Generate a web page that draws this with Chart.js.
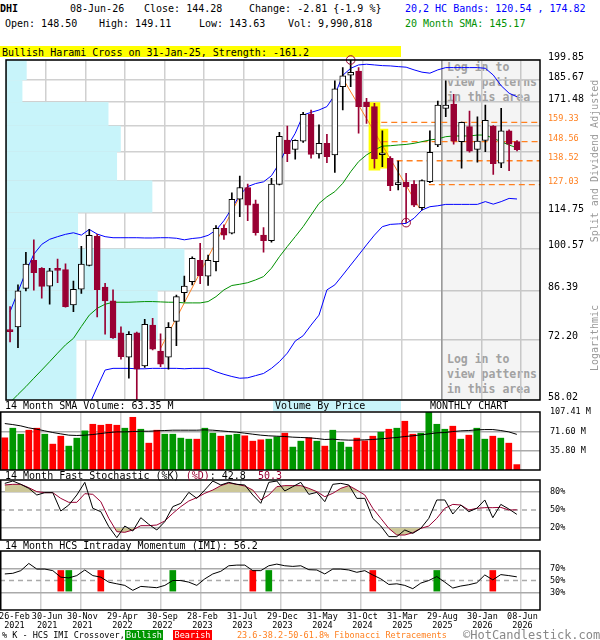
<!DOCTYPE html>
<html>
<head>
<meta charset="utf-8">
<title>DHI monthly chart</title>
<script src="https://cdn.jsdelivr.net/npm/chart.js@4.4.1/dist/chart.umd.min.js"></script>
<style>
  body { margin: 0; width: 600px; height: 640px; position: relative; overflow: hidden; background: #fff;
         font-family: "DejaVu Sans Mono", monospace; font-size: 10px; color: #000; }
  .t { position: absolute; white-space: pre; line-height: 10px; z-index: 2; }
  .small { font-size: 8.5px; line-height: 9px; }
  canvas { position: absolute; left: 0; z-index: 1; }
  .login { position: absolute; left: 447px; z-index: 0; color: #aaa; font-weight: bold;
           font-size: 11.5px; line-height: 15px; white-space: pre; }
  .rot { position: absolute; z-index: 2; color: #999; white-space: pre; line-height: 10px;
         transform: translate(-50%, -50%) rotate(-90deg); }
  .box { position: absolute; z-index: 2; color: #fff; text-align: center; font-size: 8.5px; line-height: 10px; height: 10px; }
</style>
</head>
<body>
<!-- header -->
<div class="t" style="left:0px;top:4px;font-weight:bold">DHI</div>
<div class="t" style="left:70px;top:4px">08-Jun-26</div>
<div class="t" style="left:144px;top:4px">Close: 144.28</div>
<div class="t" style="left:249px;top:4px">Change: -2.81 {-1.9 %}</div>
<div class="t" style="left:405px;top:4px;color:#0000ff">20,2 HC Bands: 120.54 , 174.82</div>
<div class="t" style="left:5px;top:19px">Open: 148.50</div>
<div class="t" style="left:99px;top:19px">High: 149.11</div>
<div class="t" style="left:199px;top:19px">Low: 143.63</div>
<div class="t" style="left:288px;top:19px">Vol: 9,990,818</div>
<div class="t" style="left:405px;top:19px;color:#009000">20 Month SMA: 145.17</div>
<div style="position:absolute;left:0;top:46px;width:401px;height:11px;background:#ffff00;z-index:0"></div>
<div class="t" style="left:2px;top:46.5px;line-height:11px;z-index:0">Bullish Harami Cross on 31-Jan-25, Strength: -161.2</div>

<div class="login" style="top:60px">Log in to
view patterns
in this area</div>
<div class="login" style="top:352px">Log in to
view patterns
in this area</div>

<div class="rot" style="left:595px;top:161px">Split and Dividend Adjusted</div>
<div class="rot" style="left:595px;top:338px">Logarithmic</div>

<!-- panel titles -->
<div class="t" style="left:5px;top:401px">14 Month SMA Volume: 63.35 M</div>
<div style="position:absolute;left:273px;top:400px;width:128px;height:11px;background:#c8f4fa;z-index:0"></div>
<div class="t" style="left:275px;top:401px">Volume By Price</div>
<div class="t" style="left:430px;top:401px">MONTHLY CHART</div>
<div class="t" style="left:5px;top:471px">14 Month Fast Stochastic (%K) <span style="color:#990033">(%D)</span>: 42.8  <span style="color:#990033">50.3</span></div>
<div class="t" style="left:5px;top:541px">14 Month HCS Intraday Momentum (IMI): 56.2</div>

<!-- footer -->
<div class="t small" style="left:2px;top:630.5px">% K - HCS IMI Crossover,</div>
<div class="box" style="left:125px;top:630px;width:38px;background:#009600">Bullish</div>
<div class="box" style="left:173px;top:630px;width:39px;background:#ff0000">Bearish</div>
<div class="t small" style="left:237px;top:630.5px;color:#ff8020">23.6-38.2-50-61.8% Fibonacci Retracements</div>
<div class="t" style="left:463px;top:629px;font-size:12px;line-height:12px;color:#888">©HotCandlestick.com</div>

<canvas id="cMain" width="600" height="360" style="top:50px"></canvas>
<canvas id="cVol" width="600" height="78" style="top:402px"></canvas>
<canvas id="cSto" width="600" height="80" style="top:470px"></canvas>
<canvas id="cImi" width="600" height="99" style="top:541px"></canvas>

<script>
// monthly candles, Feb 2021 .. Jun 2026 (index 0..64)
const opens  = [74.9, 75.7, 87.1, 96.4, 93.7, 87.8, 93.7, 93.2, 82.0, 86.8,
                94.7, 105.3, 87.5, 83.2, 74.1, 67.8, 74.1, 65.7, 76.2, 69.3,
                67.8, 77.2, 85.7, 89.2, 96.4, 91.0, 96.0, 108.3, 106.4, 120.5,
                125.6, 118.4, 105.7, 103.6, 127.1, 149.4, 144.4, 148.8, 164.0, 142.0,
                147.6, 141.5, 181.4, 189.2, 192.0, 171.3, 168.7, 141.6, 139.8, 127.0,
                128.1, 127.1, 116.8, 128.4, 146.7, 167.6, 170.2, 148.5, 156.8, 144.4,
                149.2, 157.2, 137.3, 154.4, 148.50];
const highs  = [81.5, 88.2, 99.3, 103.9, 93.9, 93.7, 96.9, 95.2, 89.4, 101.5,
                107.9, 106.0, 88.7, 86.6, 75.7, 74.4, 74.3, 77.8, 78.1, 73.8,
                76.9, 85.0, 91.1, 97.7, 102.6, 98.3, 109.4, 109.7, 123.3, 131.0,
                127.3, 120.1, 108.6, 130.0, 153.6, 157.2, 149.5, 165.2, 166.6, 157.8,
                152.5, 185.2, 194.4, 199.85, 194.4, 173.8, 170.7, 154.4, 140.6, 138.4,
                132.3, 128.9, 129.2, 154.4, 172.1, 185.2, 176.4, 159.5, 166.0, 162.6,
                169.7, 157.5, 167.6, 155.0, 149.11];
const lows   = [71.7, 70.2, 86.3, 86.5, 84.0, 82.2, 88.9, 81.3, 80.0, 85.5,
                94.5, 78.5, 73.7, 72.6, 67.3, 62.8, 58.02, 65.3, 69.6, 65.5,
                64.9, 70.7, 83.0, 88.2, 88.6, 88.0, 92.8, 104.1, 106.2, 113.0,
                111.4, 105.7, 99.3, 103.0, 126.9, 138.1, 139.3, 148.1, 139.8, 139.8,
                137.6, 132.8, 166.6, 181.4, 153.1, 158.7, 134.8, 135.6, 124.2, 124.6,
                110.6, 117.2, 115.8, 127.9, 145.8, 162.6, 147.1, 134.8, 142.9, 137.8,
                143.2, 131.8, 135.1, 133.6, 143.63];
const closes = [74.4, 86.3, 95.1, 92.2, 87.7, 92.8, 93.0, 81.5, 86.8, 95.1,
                105.6, 86.7, 83.2, 72.8, 67.9, 73.7, 64.9, 76.4, 69.8, 66.1,
                75.6, 84.5, 87.8, 97.1, 91.2, 96.4, 108.3, 105.7, 120.4, 125.7,
                117.9, 106.6, 103.6, 127.3, 151.4, 142.2, 149.2, 164.0, 141.8, 147.6,
                140.6, 179.9, 188.7, 191.0, 168.7, 168.7, 139.5, 141.9, 126.5, 127.2,
                126.0, 117.9, 128.9, 142.9, 169.7, 169.7, 148.8, 159.3, 143.5, 148.8,
                160.4, 137.1, 154.4, 147.1, 144.28];

// 20,2 HC bands and 20 month SMA
const upperBand = [80.0, 86.0, 92.5, 98.6, 102.2, 104.1, 105.1, 106.0, 106.6, 105.7,
                   107.9, 106.1, 105.1, 104.7, 104.7, 104.7, 104.7, 104.6, 104.6, 104.7,
                   104.7, 104.5, 103.9, 104.4, 104.7, 105.6, 107.6, 111.4, 116.5, 122.3,
                   126.1, 127.5, 128.3, 131.2, 137.3, 145.8, 153.1, 163.6, 165.2, 166.6,
                   168.7, 176.0, 189.0, 193.9, 196.3, 196.8, 196.3, 195.8, 195.6, 195.1,
                   194.7, 192.8, 191.2, 190.5, 192.8, 194.4, 194.4, 194.4, 194.4, 194.4,
                   193.9, 189.2, 182.0, 177.1, 174.82];
const lowerBand = [null, null, null, null, null, null, null, null, null, null,
                   57.0, 60.8, 64.7, 65.1, 65.1, 65.1, 65.0, 65.0, 65.1, 65.1,
                   65.1, 65.1, 65.0, 65.1, 65.1, 65.1, 64.3, 63.7, 63.2, 62.8,
                   62.9, 63.4, 63.9, 65.1, 66.7, 68.8, 71.9, 73.3, 76.2, 79.0,
                   86.6, 88.2, 91.4, 94.8, 98.3, 102.0, 105.7, 109.0, 109.9, 110.1,
                   110.3, 112.4, 115.8, 117.2, 117.6, 118.2, 118.2, 118.2, 118.2, 118.2,
                   119.4, 118.3, 119.4, 120.8, 120.54];
const sma20 = [57.5, 59.2, 60.9, 62.8, 64.7, 66.7, 68.8, 70.9, 72.6, 75.8,
               79.0, 81.0, 82.2, 82.8, 82.8, 82.8, 82.9, 83.0, 83.0, 82.9,
               82.8, 82.8, 82.6, 82.6, 82.6, 83.0, 84.5, 86.6, 88.0, 88.4,
               88.9, 89.8, 90.9, 93.7, 97.7, 101.4, 105.1, 109.0, 113.7, 118.6,
               121.5, 123.8, 127.6, 133.1, 138.1, 141.5, 144.0, 146.1, 146.3, 146.7,
               147.0, 147.6, 148.5, 149.4, 150.0, 151.2, 151.6, 151.6, 151.6, 152.1,
               152.1, 150.3, 148.5, 146.7, 145.17];

// volume, millions
const volumes = [59.6, 77.4, 66.3, 73.7, 77.4, 66.3, 47.9, 62.6, 44.2, 59.0,
                 72.5, 84.7, 82.9, 84.7, 82.9, 77.4, 97.6, 75.5, 49.7, 73.7,
                 66.3, 66.3, 59.0, 57.1, 57.1, 77.4, 68.2, 62.6, 64.5, 66.3,
                 63.3, 53.4, 55.9, 57.1, 61.4, 68.2, 42.4, 53.4, 59.6, 53.4,
                 44.2, 73.7, 51.6, 42.4, 59.0, 54.0, 62.6, 70.0, 75.5, 77.4,
                 90.3, 66.3, 68.2, 107.41, 84.7, 75.5, 81.1, 57.1, 64.5, 77.4,
                 57.1, 62.6, 59.0, 49.7, 9.99];
const volSma = [86.0, 84.1, 81.7, 78.0, 75.5, 72.5, 69.4, 66.9, 64.5, 63.9,
                64.5, 65.7, 67.6, 69.4, 70.6, 70.6, 71.2, 71.8, 71.8, 72.5,
                73.1, 73.7, 73.7, 73.7, 73.7, 74.3, 73.7, 72.5, 71.2, 70.0,
                68.2, 66.3, 64.5, 63.3, 62.6, 62.0, 60.8, 60.2, 59.6, 58.3,
                56.5, 57.1, 55.9, 55.3, 55.3, 55.9, 56.5, 57.7, 59.0, 60.2,
                62.0, 63.3, 65.1, 66.9, 68.8, 69.4, 71.2, 72.5, 73.1, 74.3,
                74.9, 74.9, 73.1, 70.6, 66.0];

// stochastic and IMI, percent
const pctK = [94.4, 98.3, 92.8, 86.1, 75.0, 78.9, 78.9, 48.3, 58.3, 75.0,
              96.1, 52.8, 47.2, 22.2, 3.9, 23.3, 15.0, 37.2, 26.1, 16.7,
              30.6, 55.6, 61.1, 79.4, 69.4, 83.3, 98.3, 91.7, 96.1, 92.8,
              91.7, 75.0, 61.1, 96.1, 98.3, 81.7, 88.9, 96.1, 76.1, 79.4,
              63.9, 92.8, 94.4, 91.7, 69.4, 69.4, 36.1, 23.3, 5.6, 5.6,
              16.7, 11.1, 19.4, 36.1, 66.7, 66.7, 43.3, 58.3, 47.2, 52.8,
              66.7, 37.2, 59.4, 51.7, 42.8];
const pctD = [91.7, 92.8, 92.8, 87.2, 80.6, 78.9, 78.9, 69.4, 62.8, 62.8,
              77.2, 76.1, 63.9, 36.1, 13.9, 12.8, 16.7, 23.9, 23.9, 25.0,
              31.7, 44.4, 55.6, 65.0, 70.6, 77.8, 83.3, 90.6, 95.0, 92.8,
              90.0, 83.3, 66.7, 75.0, 88.9, 90.6, 90.6, 90.6, 86.1, 80.6,
              72.2, 77.8, 86.1, 90.6, 83.3, 75.0, 52.8, 36.1, 19.4, 8.3,
              8.3, 12.2, 19.4, 23.3, 36.1, 52.8, 59.4, 58.3, 50.0, 52.8,
              53.9, 53.9, 54.4, 50.0, 50.3];
const imi = [61.1, 62.2, 66.7, 78.9, 69.4, 69.4, 66.7, 55.6, 54.4, 58.3,
             67.8, 58.3, 55.6, 47.2, 44.4, 41.7, 33.3, 40.0, 38.9, 37.8,
             41.7, 50.0, 50.0, 47.2, 41.7, 52.8, 61.1, 65.6, 75.0, 76.1,
             76.1, 66.7, 66.7, 75.0, 77.8, 75.0, 73.9, 75.0, 68.3, 67.8,
             61.1, 69.4, 69.4, 67.8, 63.9, 66.7, 59.4, 52.8, 43.3, 44.4,
             41.7, 36.1, 45.6, 50.0, 56.7, 47.2, 37.2, 40.6, 42.8, 46.1,
             59.4, 51.1, 60.0, 58.3, 56.2];
const imiBull = [8, 21, 33, 54];
const imiBear = [7, 12, 31, 46, 61];
const markerRange = [32, 67];

// price axis: grid levels, fib levels, volume by price per grid band (percent of width)
const priceGrid = [58.02, 72.20, 86.39, 100.57, 114.75, 128.93, 143.11, 157.30, 171.48, 185.67, 199.85];
const priceUnlabeled = [128.93, 143.11, 157.30];
const fibLevels = [127.03, 138.52, 148.56, 159.33];
const fibStart  = [51.6, 48.8, 46.9, 45.6];
const vbpVolume = [13.3, 28.5, 33.5, 13.6, 27.5, 20.9, 21.6, 19.3, 3.2, 4.0];

// pattern marks
const trendLines = [[{x: 19, y: 70.0}, {x: 29.1, y: 122.3}], [{x: 41.8, y: 188.8}, {x: 51.7, y: 116.5}]];
const swingPoints = [{x: 43, y: 199.85}, {x: 50, y: 110.6}];
const haramiBoxes = [{x: 46, y: [133.9, 171.1], w: 11}, {x: 47.2, y: [134.8, 155.5], w: 8}];
const SHADE_FROM = 54.5;

const volTicks = [35.8, 71.6, 107.41];
const stoTicks = [20, 50, 80];
const imiTicks = [30, 50, 70];
// month-end grid lines and where their date labels sit
const xGridPos  = [4.5, 9.5, 14.5, 19.5, 24.5, 29.5, 34.5, 39.5, 44.5, 49.5, 54.5, 59.5, 64.5];
const xLabelPos = [1.2, 5.3, 9.7, 14.7, 19.7, 24.7, 29.7, 34.7, 39.7, 44.7, 49.7, 54.7, 59.7, 64.7];
const xTickLabels = ['26-Feb 2021', '30-Jun 2021', '30-Nov 2021', '29-Apr 2022', '30-Sep 2022',
                     '28-Feb 2023', '31-Jul 2023', '29-Dec 2023', '31-May 2024', '31-Oct 2024',
                     '31-Mar 2025', '29-Aug 2025', '30-Jan 2026', '08-Jun 2026'];
const X_MIN = -0.6, X_MAX = 66.9;

const MAROON = '#990033', ORANGE = '#ff8020', GREEN = '#009600', RED = '#ff0000';
const KHAKI = 'rgb(204,199,152)', NONE = 'rgba(0,0,0,0)', GRID = '#d0d0d0', LEVEL = '#aaaaaa';

Chart.defaults.font.family = '"DejaVu Sans Mono", monospace';
Chart.defaults.color = '#000';

const isUp = closes.map((c, i) => c >= opens[i]);
const pts = arr => arr.map((v, i) => ({x: i, y: v}));

const framePlugin = {
  id: 'frame',
  afterDraw(chart) {
    const {ctx, chartArea: a} = chart;
    ctx.save();
    ctx.strokeStyle = '#000';
    ctx.lineWidth = 1.5;
    ctx.strokeRect(a.left + 0.75, a.top, a.right - a.left - 0.75, a.bottom - a.top);
    ctx.restore();
  }
};

// volume by price: one cyan band per price grid interval
const vbpPlugin = {
  id: 'vbp',
  beforeDatasetsDraw(chart) {
    const {ctx, chartArea: a, scales: {y, xv}} = chart;
    ctx.save();
    ctx.fillStyle = '#c8f4fa';
    vbpVolume.forEach((v, k) => {
      const top = y.getPixelForValue(priceGrid[k + 1]);
      const bot = y.getPixelForValue(priceGrid[k]);
      ctx.fillRect(a.left, top, xv.getPixelForValue(v) - a.left, bot - top);
    });
    ctx.restore();
  }
};

function xScale(showLabels) {
  const all = showLabels ? xGridPos.concat(xLabelPos) : xGridPos;
  return {
    type: 'linear', min: X_MIN, max: X_MAX, offset: false,
    afterBuildTicks: ax => { ax.ticks = all.slice().sort((a, b) => a - b).map(v => ({value: v})); },
    afterFit: ax => {
      ax.paddingLeft = 0; ax.paddingRight = 0;
      ax.height = showLabels ? 30 : 0;
    },
    grid: {color: c => xGridPos.includes(c.tick.value) ? GRID : NONE,
           lineWidth: 1.5, drawTicks: false, offset: false},
    border: {display: false},
    ticks: showLabels
      ? {autoSkip: false, maxRotation: 0, padding: 3, font: {size: 8.5, lineHeight: 1.0},
         callback: v => {
           const k = xLabelPos.indexOf(v);
           return k < 0 ? '' : xTickLabels[k].split(' ');
         }}
      : {display: false}
  };
}

function levelAxis(ticks, max, fmt, dashed) {
  return {
    position: 'right', min: 0, max: max,
    afterFit: ax => { ax.width = 60; ax.paddingTop = 0; ax.paddingBottom = 0; },
    afterBuildTicks: ax => { ax.ticks = ticks.map(v => ({value: v})); },
    grid: {drawTicks: false, lineWidth: 1.5,
           color: c => (c.tick.value === dashed || c.tick.value === max) ? NONE : LEVEL},
    border: {display: false},
    ticks: {autoSkip: false, padding: 10, font: {size: 8.5}, callback: fmt}
  };
}

function hline(v) {
  return {type: 'line', data: [{x: X_MIN, y: v}, {x: X_MAX, y: v}], borderColor: LEVEL,
          borderWidth: 1.5, borderDash: [5, 4], pointRadius: 0, order: 9};
}

function line(data, color, order) {
  return {type: 'line', data: data, borderColor: color, borderWidth: 1, pointRadius: 0,
          tension: 0, fill: false, order: order};
}

const baseOptions = (padTop, padBottom) => ({
  responsive: false, animation: false, events: [], devicePixelRatio: 1,
  layout: {padding: {top: padTop, bottom: padBottom, left: 0, right: 0}},
  plugins: {legend: {display: false}, tooltip: {enabled: false}}
});

// ---- price panel ----
const mainDatasets = [
  {type: 'line', data: [{x: SHADE_FROM, y: 199.85}, {x: X_MAX, y: 199.85}], fill: 'start',
   backgroundColor: 'rgba(0,0,0,0.045)', borderWidth: 0, pointRadius: 0, order: 10},
  {type: 'line', data: [{x: SHADE_FROM, y: 58.02}, {x: SHADE_FROM, y: 199.85}],
   borderColor: '#999', borderWidth: 1.5, pointRadius: 0, order: 9},
  ...haramiBoxes.map(b => ({type: 'bar', data: [{x: b.x, y: b.y}], backgroundColor: '#ffff00',
   barThickness: b.w, grouped: false, order: 8})),
  line(pts(upperBand), '#0000ff', 5),
  line(pts(lowerBand), '#0000ff', 5),
  line(pts(sma20), '#009000', 5),
  ...trendLines.map(t => line(t, ORANGE, 5)),
  ...fibLevels.map((lv, k) => ({type: 'line', data: [{x: fibStart[k], y: lv}, {x: X_MAX, y: lv}],
   borderColor: ORANGE, borderWidth: 1.3, borderDash: [6, 4], pointRadius: 0, order: 5})),
  {type: 'bar', data: lows.map((l, i) => ({x: i, y: [l, highs[i]]})),
   backgroundColor: isUp.map(u => u ? '#000' : MAROON), barThickness: 1, grouped: false, order: 2},
  {type: 'bar', data: opens.map((o, i) => ({x: i, y: [Math.min(o, closes[i]), Math.max(o, closes[i])]})),
   backgroundColor: isUp.map(u => u ? '#fff' : MAROON), borderColor: isUp.map(u => u ? '#000' : MAROON),
   borderWidth: 1, borderSkipped: false, barThickness: 6, minBarLength: 2, grouped: false, order: 1},
  {type: 'line', data: swingPoints, showLine: false, pointRadius: 4.3, pointBorderColor: MAROON,
   pointBackgroundColor: NONE, pointBorderWidth: 1, clip: false, order: 0}
];

const isFib = v => fibLevels.includes(v);
new Chart(document.getElementById('cMain'), {
  type: 'line',
  data: {datasets: mainDatasets},
  options: Object.assign(baseOptions(10, 10), {
    scales: {
      x: xScale(false),
      xv: {type: 'linear', display: false, min: 0, max: 100},
      y: {
        type: 'logarithmic', position: 'right', min: 58.02, max: 199.85,
        afterFit: ax => { ax.width = 60; ax.paddingTop = 0; ax.paddingBottom = 0; },
        afterBuildTicks: ax => {
          ax.ticks = priceGrid.concat(fibLevels).sort((a, b) => a - b).map(v => ({value: v}));
        },
        grid: {drawTicks: false, lineWidth: 1.5, color: c => isFib(c.tick.value) ? NONE : GRID},
        border: {display: false},
        ticks: {
          autoSkip: false, padding: 8, labelOffset: -3,
          color: c => isFib(c.tick.value) ? ORANGE : '#000',
          font: c => isFib(c.tick.value) ? {size: 8.5} : {size: 10},
          callback: v => priceUnlabeled.includes(v) ? '' : v.toFixed(2)
        }
      }
    }
  }),
  plugins: [vbpPlugin, framePlugin]
});

// ---- volume panel ----
new Chart(document.getElementById('cVol'), {
  type: 'line',
  data: {datasets: [
    {type: 'bar', data: pts(volumes), backgroundColor: isUp.map(u => u ? GREEN : RED),
     barThickness: 6, grouped: false, order: 2},
    line(pts(volSma), '#000', 1)
  ]},
  options: Object.assign(baseOptions(10, 10), {
    scales: {x: xScale(false), y: levelAxis(volTicks, 107.41, v => v.toFixed(2) + ' M', null)}
  }),
  plugins: [framePlugin]
});

// ---- stochastic panel ----
new Chart(document.getElementById('cSto'), {
  type: 'line',
  data: {datasets: [
    {type: 'line', data: pts(pctD), fill: {target: {value: 80}, above: KHAKI, below: NONE},
     borderWidth: 0, pointRadius: 0, order: 8},
    {type: 'line', data: pts(pctD), fill: {target: {value: 20}, above: NONE, below: KHAKI},
     borderWidth: 0, pointRadius: 0, order: 8},
    hline(50),
    line(pts(pctD), MAROON, 2),
    line(pts(pctK), '#000', 1)
  ]},
  options: Object.assign(baseOptions(10, 10), {
    scales: {x: xScale(false), y: levelAxis(stoTicks, 100, v => v + '%', 50)}
  }),
  plugins: [framePlugin]
});

// ---- IMI panel ----
new Chart(document.getElementById('cImi'), {
  type: 'line',
  data: {datasets: [
    {type: 'bar', data: imiBull.map(i => ({x: i, y: markerRange})), backgroundColor: GREEN,
     barThickness: 6, grouped: false, order: 3},
    {type: 'bar', data: imiBear.map(i => ({x: i, y: markerRange})), backgroundColor: RED,
     barThickness: 6, grouped: false, order: 3},
    hline(50),
    line(pts(imi), '#000', 1)
  ]},
  options: Object.assign(baseOptions(10, 0), {
    scales: {x: xScale(true), y: levelAxis(imiTicks, 100, v => v + '%', 50)}
  }),
  plugins: [framePlugin]
});
</script>
</body>
</html>
